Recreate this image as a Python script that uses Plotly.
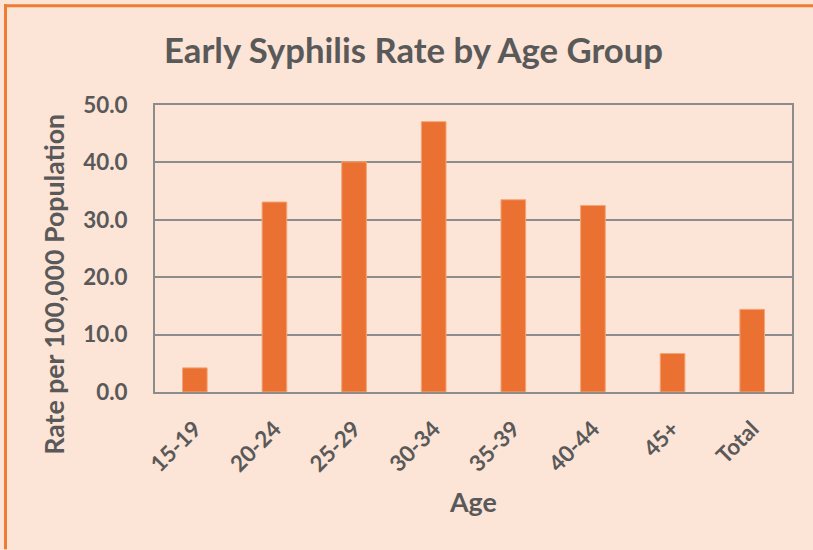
import plotly.graph_objects as go

categories = ["15-19", "20-24", "25-29", "30-34", "35-39", "40-44", "45+", "Total"]
rates = [4.2, 33.1, 40.1, 47.1, 33.5, 32.5, 6.7, 14.4]
y_ticks = [0, 10, 20, 30, 40, 50]
y_tick_labels = ["0.0", "10.0", "20.0", "30.0", "40.0", "50.0"]

W, H = 813, 550
L, R, T, B = 155, 21, 105, 157.5
pw, ph = W - L - R, H - T - B

def px_x(p):
    return (p - L) / pw

def px_y(p):
    return (H - B - p) / ph

TXT = "#595959"
ORANGE = "#EA7131"
BG = "#FCE4D6"
FONT = "Lato"

fig = go.Figure()
fig.add_trace(go.Bar(
    x=categories, y=rates,
    marker=dict(color=ORANGE, line=dict(color="#F4A679", width=1)),
    width=0.31,
))

fig.update_layout(
    width=W, height=H,
    margin=dict(l=L, r=R, t=T, b=B, pad=0),
    paper_bgcolor=BG, plot_bgcolor=BG,
    showlegend=False,
    font=dict(family=FONT, color=TXT),
    title=dict(text="<b>Early Syphilis Rate by Age Group</b>",
               x=413.5 / W, xanchor="center", y=1 - 51 / H, yanchor="middle",
               font=dict(size=34.7, color=TXT, family=FONT)),
    xaxis=dict(
        tickangle=-45, tickfont=dict(size=22.4, color=TXT, family=FONT),
        showline=True, linecolor="#8C8C8C", linewidth=2, mirror=True,
        showgrid=False, ticks="", ticklabelstandoff=13,
        tickprefix="<b>", ticksuffix="</b>",
    ),
    yaxis=dict(
        range=[0, 50], tickvals=y_ticks, ticktext=[f"<b>{t}</b>" for t in y_tick_labels],
        tickfont=dict(size=22.4, color=TXT, family=FONT),
        showline=True, linecolor="#8C8C8C", linewidth=2, mirror=True,
        showgrid=True, gridcolor="#8C8C8C", gridwidth=1.5,
        zeroline=False, ticks="", ticklabelstandoff=21,
    ),
    annotations=[
        dict(text="<b>Rate per 100,000 Population</b>", textangle=-90,
             x=px_x(54), y=px_y(284), xref="paper", yref="paper",
             xanchor="center", yanchor="middle", showarrow=False,
             font=dict(size=26.7, color=TXT, family=FONT)),
        dict(text="<b>Age</b>", x=px_x(473), y=px_y(503), xref="paper", yref="paper",
             xanchor="center", yanchor="middle", showarrow=False,
             font=dict(size=26.8, color=TXT, family=FONT)),
    ],
    shapes=[
        dict(type="line", xref="paper", yref="paper",
             x0=px_x(5.5), x1=px_x(5.5), y0=px_y(550), y1=px_y(4),
             line=dict(color="#ED7D31", width=3)),
        dict(type="line", xref="paper", yref="paper",
             x0=px_x(4), x1=px_x(813), y0=px_y(5.5), y1=px_y(5.5),
             line=dict(color="#ED7D31", width=3)),
    ],
)

fig.write_html(
    "out.html",
    config={"displayModeBar": False},
    post_script="document.body.style.margin='0';document.body.style.padding='0';"
                "document.body.style.overflow='hidden';document.body.style.background='#FCE4D6';",
)
